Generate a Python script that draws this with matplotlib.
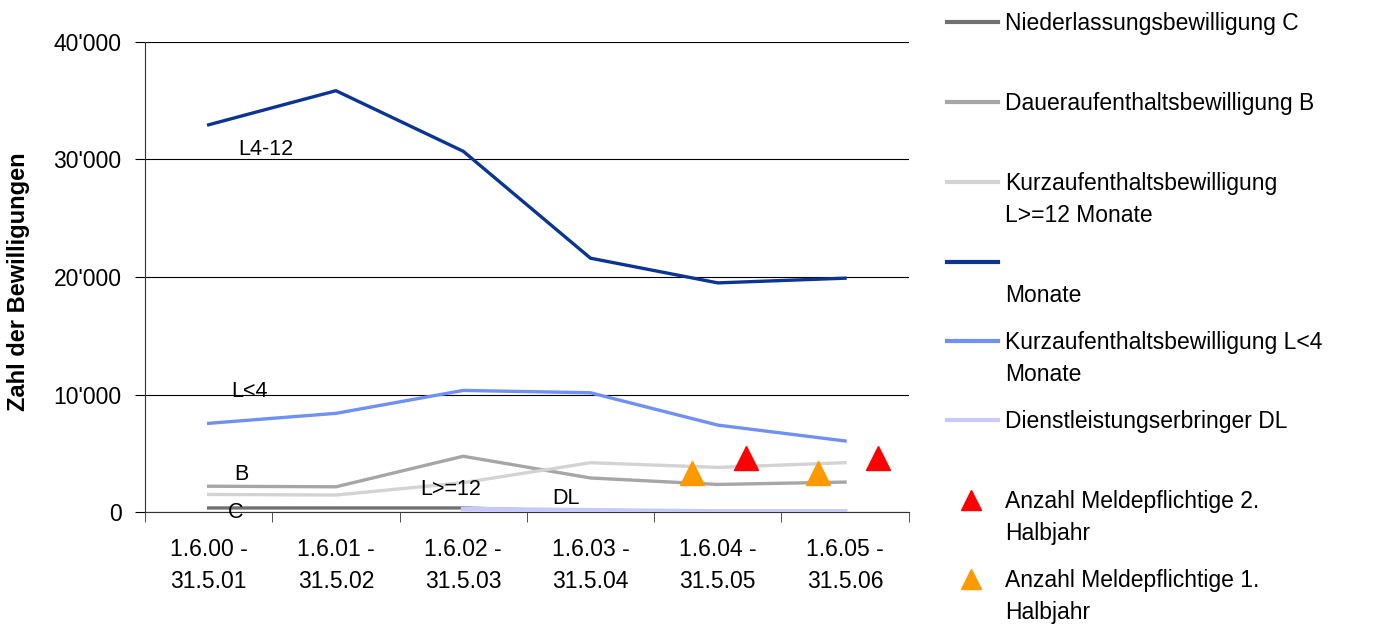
import matplotlib.pyplot as plt
from matplotlib.lines import Line2D
from matplotlib.ticker import FuncFormatter

plt.rcParams['font.family'] = ['Liberation Sans', 'DejaVu Sans']

periods = ['1.6.00 -\n31.5.01', '1.6.01 -\n31.5.02', '1.6.02 -\n31.5.03',
           '1.6.03 -\n31.5.04', '1.6.04 -\n31.5.05', '1.6.05 -\n31.5.06']

# Bewilligungen pro Periode
c_vals = [350, 350, 350, 50, 0, 0]
b_vals = [2200, 2150, 4750, 2900, 2350, 2550]
l12_vals = [1500, 1450, 2500, 4200, 3800, 4200]
l412_vals = [32950, 35850, 30700, 21600, 19500, 19900]
l4_vals = [7550, 8400, 10350, 10150, 7400, 6050]
dl_x = [2, 3, 4, 5]
dl_vals = [250, 150, 50, 50]

# Meldepflichtige (Halbjahre)
h1_x = [3.8, 4.79]
h1_vals = [3300, 3300]
h2_x = [4.22, 5.26]
h2_vals = [4600, 4600]

x = list(range(len(periods)))

fig = plt.figure(figsize=(13.81, 6.26), dpi=100)
ax = fig.add_axes([0.105, 0.182, 0.553, 0.751])

lw = 2.4
ax.plot(x, c_vals, color='#707070', lw=lw, zorder=3)
ax.plot(x, b_vals, color='#a6a6a6', lw=lw, zorder=3)
ax.plot(x, l12_vals, color='#d3d3d3', lw=lw, zorder=3)
ax.plot(x, l412_vals, color='#0a3595', lw=lw, zorder=3)
ax.plot(x, l4_vals, color='#6f90f5', lw=lw, zorder=3)
ax.plot(dl_x, dl_vals, color='#c6c9fb', lw=lw + 1, zorder=4)
ax.plot(h1_x, h1_vals, ls='none', marker='^', ms=17, color='#ff9900', zorder=5)
ax.plot(h2_x, h2_vals, ls='none', marker='^', ms=17, color='#ff0000', zorder=5)

# Beschriftungen an den Linien
fs_lab = 15.5
ax.text(0.23, 30400, 'L4-12', fontsize=fs_lab)
ax.text(0.18, 9800, 'L<4', fontsize=fs_lab)
ax.text(0.2, 2750, 'B', fontsize=fs_lab)
ax.text(1.66, 1450, 'L>=12', fontsize=fs_lab)
ax.text(2.7, 650, 'DL', fontsize=fs_lab)
ax.text(0.15, -500, 'C', fontsize=fs_lab)

ax.set_xlim(-0.5, 5.5)
ax.set_ylim(0, 40000)
ax.set_yticks([0, 10000, 20000, 30000, 40000])
ax.yaxis.set_major_formatter(FuncFormatter(lambda v, p: f'{int(v):,}'.replace(',', "'")))
ax.set_xticks(x)
ax.set_xticklabels(periods, linespacing=1.5)
ax.set_xticks([i - 0.5 for i in range(len(periods) + 1)], minor=True)
ax.tick_params(axis='x', which='major', length=0, pad=19, labelsize=16.5)
ax.tick_params(axis='x', which='minor', length=7, direction='out', color='#333333')
ax.tick_params(axis='y', length=7, direction='out', labelsize=16.5, pad=10)
ax.grid(axis='y', color='black', lw=0.8)
ax.set_axisbelow(True)
for s in ['top', 'right']:
    ax.spines[s].set_visible(False)
ax.spines['left'].set_color('#333333')
ax.spines['bottom'].set_color('#333333')
ax.set_ylabel('Zahl der Bewilligungen', fontsize=17, fontweight='bold')
ax.yaxis.set_label_coords(-0.151, 0.49)

# Legende rechts
entries = [
    ('line', '#707070', 'Niederlassungsbewilligung C', 22),
    ('line', '#a6a6a6', 'Daueraufenthaltsbewilligung B', 102),
    ('line', '#d3d3d3', 'Kurzaufenthaltsbewilligung\nL>=12 Monate', 182),
    ('line', '#0a3595', '\nMonate', 262),
    ('line', '#6f90f5', 'Kurzaufenthaltsbewilligung L<4\nMonate', 341),
    ('line', '#c6c9fb', 'Dienstleistungserbringer DL', 420),
    ('tri', '#ff0000', 'Anzahl Meldepflichtige 2.\nHalbjahr', 500),
    ('tri', '#ff9900', 'Anzahl Meldepflichtige 1.\nHalbjahr', 579),
]
W, H = 1381, 626
for kind, col, label, ypx in entries:
    yf = 1 - ypx / H
    if kind == 'line':
        fig.add_artist(Line2D([947 / W, 998 / W], [yf, yf], color=col, lw=3))
    else:
        fig.add_artist(Line2D([971 / W], [yf], marker='^', ms=15, color=col, ls='none'))
    fig.text(1005 / W, 1 - (ypx - 10) / H, label, fontsize=16.5, va='top', ha='left',
             linespacing=1.5)

fig.savefig('out.png', dpi=100)
